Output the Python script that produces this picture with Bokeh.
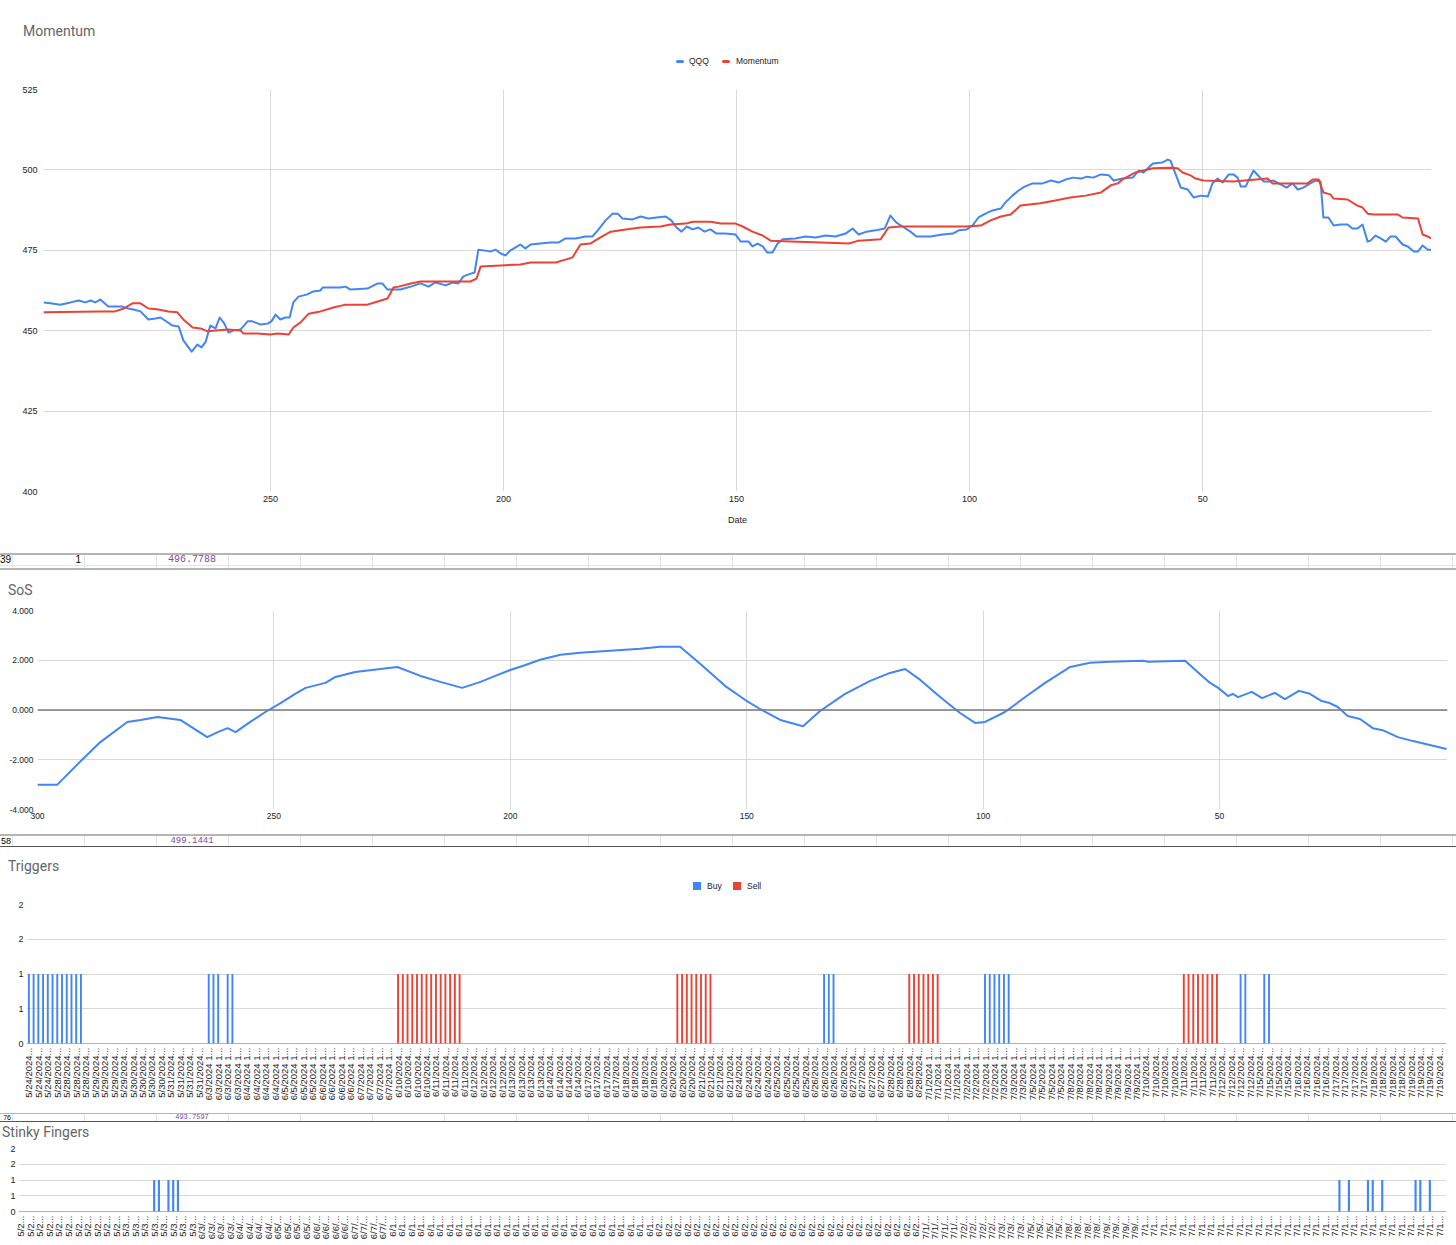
import math
from bokeh.plotting import figure
from bokeh.models import Range1d, FixedTicker, Span, Div, NumeralTickFormatter
from bokeh.layouts import column
from bokeh.embed import file_html
from bokeh.resources import INLINE

# ---------------- data ----------------
QQQ_IDX = [298.7, 297.2, 295.1, 292.9, 291.2, 289.7, 288.6, 287.6, 286.5, 284.8,
           281.8, 280.5, 279.4, 277.9, 276.2, 274.7, 273.6, 271.0, 269.7, 268.7,
           266.9, 265.7, 264.8, 263.9, 262.9, 261.8, 260.9, 259.9, 259.0, 257.9,
           256.4, 254.9, 253.9, 252.1, 250.6, 249.8, 248.9, 247.9, 246.8, 245.9,
           245.1, 244.0, 242.1, 240.8, 239.3, 238.8, 235.0, 233.9, 232.8, 229.2,
           227.0, 226.0, 224.9, 222.1, 219.9, 217.8, 216.1, 214.6, 212.4, 210.9,
           209.7, 208.6, 207.5, 206.2, 205.4, 203.9, 202.8, 201.7, 200.6, 199.6,
           198.5, 197.4, 196.4, 195.3, 194.2, 192.1, 189.9, 188.2, 186.7, 184.5,
           182.4, 180.9, 179.6, 178.1, 176.6, 175.5, 174.5, 172.3, 170.6, 168.9,
           167.2, 165.2, 164.0, 162.9, 161.8, 160.7, 159.4, 158.2, 156.9, 155.6,
           154.3, 152.4, 150.2, 149.1, 147.4, 146.6, 145.5, 144.4, 143.4, 142.3,
           141.2, 140.1, 137.4, 135.2, 133.0, 130.9, 128.8, 126.6, 125.1, 123.8,
           122.1, 120.2, 118.2, 117.0, 115.7, 114.4, 112.7, 111.4, 108.4, 105.8,
           103.6, 102.3, 100.6, 99.4, 98.1, 96.6, 95.1, 93.3, 92.3, 90.8,
           89.5, 88.2, 86.5, 84.3, 82.6, 80.8, 79.4, 77.8, 76.1, 74.8,
           73.5, 71.8, 70.1, 69.1, 67.2, 65.0, 63.7, 62.7, 60.7, 58.6,
           57.5, 56.9, 54.7, 53.2, 51.9, 50.4, 48.9, 47.9, 46.8, 45.7,
           44.4, 43.4, 42.5, 41.8, 40.8, 39.1, 36.9, 35.8, 34.8, 33.7,
           32.0, 30.7, 29.6, 28.4, 26.9, 25.8, 24.7, 24.1, 23.0, 21.9,
           20.4, 18.9, 17.9, 16.8, 15.7, 14.6, 14.0, 12.9, 11.8, 10.7,
           9.7, 8.6, 7.1, 6.0, 4.7, 3.8, 2.8, 1.7, 1.0]
QQQ_VAL = [458.8, 458.5, 458.1, 458.8, 459.4, 458.8, 459.4, 458.8, 459.7, 457.5,
           457.5, 456.9, 456.6, 456.0, 453.5, 453.8, 454.1, 451.6, 451.3, 447.0,
           443.5, 445.7, 444.8, 446.6, 451.6, 450.7, 454.1, 452.2, 449.4, 450.1,
           450.4, 452.9, 452.9, 451.9, 452.2, 452.9, 455.0, 453.5, 454.1, 454.1,
           458.8, 460.6, 461.3, 462.2, 462.5, 463.4, 463.4, 463.7, 462.8, 463.1,
           464.7, 464.7, 462.8, 462.8, 463.7, 464.7, 463.7, 465.0, 464.1, 465.0,
           464.7, 466.9, 467.5, 468.1, 475.2, 474.9, 474.6, 475.2, 474.0, 473.4,
           475.0, 475.9, 476.8, 475.6, 476.8, 477.1, 477.4, 477.4, 478.7, 478.7,
           479.3, 479.3, 481.5, 484.3, 486.4, 486.4, 484.9, 484.6, 485.5, 484.9,
           485.2, 485.5, 484.3, 482.1, 480.8, 482.4, 481.5, 482.1, 480.8, 481.5,
           480.2, 480.2, 479.9, 477.7, 477.7, 476.2, 477.1, 476.2, 474.3, 474.3,
           477.1, 478.4, 478.7, 479.3, 479.0, 479.6, 479.3, 480.2, 481.8, 479.9,
           480.8, 481.2, 481.8, 485.8, 483.6, 482.4, 480.8, 479.3, 479.3, 479.9,
           480.2, 481.2, 481.5, 482.7, 485.2, 486.4, 487.4, 488.0, 489.9, 492.0,
           493.6, 494.8, 495.8, 495.8, 496.7, 496.1, 497.0, 497.6, 497.3, 497.9,
           497.6, 498.6, 498.3, 496.7, 497.3, 497.6, 499.8, 499.2, 502.0, 502.3,
           503.2, 502.9, 494.5, 493.9, 491.4, 492.0, 491.7, 495.8, 497.3, 496.1,
           498.6, 498.6, 497.6, 494.8, 494.8, 499.8, 496.4, 496.4, 496.7, 495.8,
           494.5, 495.8, 493.9, 494.5, 495.8, 496.7, 496.4, 485.2, 485.2, 482.7,
           483.0, 483.0, 481.8, 481.8, 483.0, 477.7, 478.0, 479.6, 478.7, 477.7,
           479.3, 479.3, 476.8, 476.2, 474.6, 474.6, 476.5, 475.2, 475.2]

MOM_IDX = [298.7, 286.5, 283.3, 281.5, 279.6, 277.9, 276.2, 274.0, 271.9, 270.0,
           268.7, 266.7, 265.0, 263.5, 259.2, 256.4, 255.8, 252.8, 250.0, 248.5,
           246.1, 245.1, 243.6, 241.8, 239.3, 236.5, 233.9, 229.2, 227.0, 224.9,
           223.6, 222.5, 219.9, 217.8, 207.1, 205.8, 204.9, 200.6, 196.4, 194.2,
           188.8, 186.7, 185.2, 183.5, 181.4, 179.2, 177.0, 173.8, 170.6, 166.3,
           164.2, 160.9, 159.4, 155.6, 153.4, 150.2, 148.7, 146.6, 144.4, 142.7,
           138.4, 131.9, 125.9, 123.8, 119.1, 117.4, 114.8, 100.8, 97.6, 95.5,
           93.3, 91.2, 89.1, 84.8, 81.6, 78.4, 75.1, 71.8, 69.7, 68.2,
           66.9, 64.4, 60.7, 56.9, 55.4, 54.3, 52.6, 51.5, 49.8, 43.4,
           36.1, 35.0, 27.5, 26.4, 25.1, 24.1, 22.6, 21.9, 18.9, 16.8,
           15.7, 14.6, 13.3, 8.1, 7.1, 3.8, 2.8, 1.7, 1.0]
MOM_VAL = [455.7, 456.0, 456.0, 456.9, 458.5, 458.5, 456.9, 456.6, 456.0, 455.7,
           453.5, 451.0, 450.7, 449.8, 450.4, 450.1, 449.1, 449.1, 448.8, 449.1,
           448.8, 451.0, 452.5, 455.3, 456.0, 457.2, 458.1, 458.1, 459.1, 460.0,
           463.4, 463.7, 464.7, 465.3, 465.3, 466.2, 470.0, 470.3, 470.6, 471.2,
           471.2, 472.1, 472.8, 476.8, 477.1, 479.0, 480.8, 481.5, 482.1, 482.4,
           483.0, 483.3, 483.9, 483.9, 483.3, 483.3, 482.4, 480.8, 479.6, 478.0,
           477.7, 477.4, 477.1, 478.0, 478.4, 482.1, 482.4, 482.4, 482.7, 484.3,
           485.5, 486.1, 488.9, 489.6, 490.5, 491.4, 492.0, 493.0, 495.2, 495.8,
           497.3, 499.2, 500.5, 500.7, 500.5, 499.2, 498.3, 497.3, 496.7, 496.4,
           497.3, 495.8, 495.8, 497.0, 497.0, 493.0, 492.4, 491.1, 490.8, 488.9,
           488.3, 486.4, 486.1, 486.1, 485.2, 484.9, 479.9, 479.3, 478.7]

SOS_IDX = [300.0, 295.8, 290.9, 286.7, 281.0, 278.2, 274.6, 269.8, 264.1, 261.9,
           259.8, 258.1, 255.0, 251.8, 248.6, 245.5, 243.3, 239.1, 237.0, 232.8,
           227.5, 223.9, 219.0, 214.8, 210.2, 206.3, 203.2, 200.0, 196.8, 193.7,
           189.4, 185.2, 178.9, 172.5, 168.3, 164.1, 159.8, 154.6, 150.3, 147.2,
           142.9, 138.1, 134.5, 129.2, 123.9, 119.7, 116.5, 113.3, 109.1, 104.9,
           101.7, 99.6, 95.4, 91.1, 86.9, 81.6, 77.4, 73.2, 66.2, 65.1,
           57.3, 53.7, 52.0, 50.3, 48.2, 47.2, 46.1, 43.2, 41.0, 38.3,
           36.2, 33.2, 30.9, 28.4, 26.7, 25.0, 22.9, 20.3, 17.6, 15.5,
           12.3, 9.1, 2.0]
SOS_VAL = [-3.0, -3.0, -2.06, -1.29, -0.48, -0.40, -0.28, -0.40, -1.09, -0.89,
           -0.73, -0.89, -0.48, -0.08, 0.28, 0.65, 0.89, 1.09, 1.33, 1.53,
           1.65, 1.73, 1.37, 1.13, 0.89, 1.13, 1.37, 1.61, 1.81, 2.02,
           2.22, 2.30, 2.38, 2.46, 2.54, 2.54, 1.85, 0.97, 0.40, 0.04,
           -0.40, -0.65, -0.04, 0.65, 1.17, 1.49, 1.65, 1.21, 0.52, -0.12,
           -0.52, -0.48, -0.08, 0.52, 1.09, 1.73, 1.90, 1.94, 1.98, 1.94,
           1.98, 1.37, 1.09, 0.89, 0.56, 0.65, 0.52, 0.73, 0.48, 0.69,
           0.44, 0.77, 0.65, 0.36, 0.28, 0.12, -0.24, -0.36, -0.73, -0.81,
           -1.09, -1.25, -1.57]

DATES = ["5/24/2024", "5/28/2024", "5/29/2024", "5/30/2024", "5/31/2024",
         "6/3/2024", "6/4/2024", "6/5/2024", "6/6/2024", "6/7/2024",
         "6/10/2024", "6/11/2024", "6/12/2024", "6/13/2024", "6/14/2024",
         "6/17/2024", "6/18/2024", "6/20/2024", "6/21/2024", "6/24/2024",
         "6/25/2024", "6/26/2024", "6/27/2024", "6/28/2024", "7/1/2024",
         "7/2/2024", "7/3/2024", "7/5/2024", "7/8/2024", "7/9/2024",
         "7/10/2024", "7/11/2024", "7/12/2024", "7/15/2024", "7/16/2024",
         "7/17/2024", "7/18/2024", "7/19/2024"]
ROWS_PER_DAY = [6, 8, 8, 8, 8, 8, 8, 8, 8, 8,
                8, 8, 8, 8, 8, 8, 8, 8, 8, 8,
                8, 8, 8, 8, 8, 8, 6, 8, 8, 8,
                8, 8, 8, 8, 8, 8, 8, 8]
TIMES = ["10:00:00", "10:45:00", "11:30:00", "12:15:00",
         "13:00:00", "13:45:00", "14:30:00", "15:15:00"]

BUY_ROWS = [0, 1, 2, 3, 4, 5, 6, 7, 8, 9, 10, 11, 38, 39, 40, 42, 43,
            168, 169, 170, 202, 203, 204, 205, 206, 207, 256, 257, 261, 262]
SELL_ROWS = [78, 79, 80, 81, 82, 83, 84, 85, 86, 87, 88, 89, 90, 91,
             137, 138, 139, 140, 141, 142, 143, 144,
             186, 187, 188, 189, 190, 191, 192,
             244, 245, 246, 247, 248, 249, 250, 251]
STINKY_ROWS = [28, 29, 31, 32, 33, 277, 279, 283, 284, 286, 293, 294, 296]

MOM_XTICKS = [250, 200, 150, 100, 50]
MOM_YTICKS = [400, 425, 450, 475, 500, 525]
SOS_XTICKS = [300, 250, 200, 150, 100, 50]
SOS_YTICKS = [-4, -2, 0, 2, 4]
TRIG_YTICKS = [0, 0.5, 1, 1.5, 2]
TRIG_YLABELS = ["0", "1", "1", "2", "2"]

STRIP_1 = ["39", "1", "496.7788"]
STRIP_2 = ["58", "", "499.1441"]
STRIP_3 = ["76", "", "493.7597"]

# ---------------- derived rows ----------------
ROWS = []
for d, n in zip(DATES, ROWS_PER_DAY):
    for t in TIMES[:n]:
        ROWS.append((d, t))
N = len(ROWS)


def trig_label(d, t):
    return d + "..." if len(d) >= 9 else d + " " + t[0] + "..."


def stinky_label(d, t):
    return d[:4] + "..." if d[3] == "/" else d[:3] + "..."


# ---------------- style ----------------
W = 1456
BLUE = "#4285F4"
RED = "#EA4335"
GRID = "#d9d9d9"
TXT = "#222222"
TITLE_C = "#666666"
AXF = "Liberation Sans"


def base(h, xr, yr, l, r, t, b):
    p = figure(width=W, height=h, x_range=xr, y_range=yr, output_backend="svg",
               toolbar_location=None, tools="", title=None,
               min_border_left=l, min_border_right=r, min_border_top=t, min_border_bottom=b)
    p.frame_align = False
    p.outline_line_color = None
    p.background_fill_color = "white"
    p.border_fill_color = "white"
    for ax in (p.xaxis[0], p.yaxis[0]):
        ax.axis_line_color = None
        ax.major_tick_line_color = None
        ax.minor_tick_line_color = None
        ax.major_tick_out = 0
        ax.major_tick_in = 0
        ax.minor_tick_out = 0
        ax.minor_tick_in = 0
        ax.major_label_text_font = AXF
        ax.major_label_text_font_size = "9px"
        ax.major_label_text_color = TXT
    p.xgrid.grid_line_color = GRID
    p.ygrid.grid_line_color = GRID
    return p


def set_ticks(p, xt=None, yt=None):
    if xt is not None:
        p.xaxis[0].ticker = FixedTicker(ticks=xt)
        p.xgrid[0].ticker = FixedTicker(ticks=xt)
    if yt is not None:
        p.yaxis[0].ticker = FixedTicker(ticks=yt)
        p.ygrid[0].ticker = FixedTicker(ticks=yt)


# ---------------- HTML header / strip helpers ----------------
def abs_text(txt, left, top, size, color, font, lh, width=None, align="left"):
    wcss = "width:%dpx;text-align:%s;" % (width, align) if width else ""
    return ('<div style="position:absolute;left:%dpx;top:%dpx;%sfont-family:%s;font-size:%s;'
            'line-height:%dpx;color:%s;white-space:nowrap;">%s</div>'
            % (left, top, wcss, font, size, lh, color, txt))


def abs_box(left, top, w, h, color, radius=0):
    return ('<div style="position:absolute;left:%dpx;top:%dpx;width:%dpx;height:%dpx;'
            'background:%s;border-radius:%spx;"></div>' % (left, top, w, h, color, radius))


def header(h, title, title_left, title_cy, legend=None):
    parts = ['<div style="position:relative;width:%dpx;height:%dpx;">' % (W, h)]
    parts.append(abs_text(title, title_left, title_cy - 9, "14px", TITLE_C, "Roboto", 18))
    if legend:
        cy, items = legend
        for kind, color, gx, label, tx in items:
            if kind == "line":
                parts.append(abs_box(gx, cy - 1, 8, 3, color, 1.5))
            else:
                parts.append(abs_box(gx, cy - 4, 8, 8, color, 0))
            parts.append(abs_text(label, tx, cy - 5, "8.5px", TXT, "'Liberation Sans'", 10))
    parts.append('</div>')
    return Div(text="".join(parts), width=W, height=h, margin=(0, 0, 0, 0))


def strip_div(h, rules, cell_top, cell_h, vals, text_top, fsize, lh):
    parts = ['<div style="position:relative;width:%dpx;height:%dpx;">' % (W, h)]
    for top, th, col in rules:
        parts.append(abs_box(0, top, W, th, col))
    for x in range(12, W, 72):
        parts.append(abs_box(x, cell_top, 1, cell_h, "#e2e2e2"))
    parts.append(abs_text(vals[0], 0, text_top, fsize, "#000000", "'Liberation Sans'", lh, 11, "right"))
    parts.append(abs_text(vals[1], 41, text_top, fsize, "#000000", "'Liberation Sans'", lh, 40, "right"))
    parts.append(abs_text(vals[2], 156, text_top, fsize, "#7d4b9e", "'Liberation Mono'", lh, 72, "center"))
    parts.append('</div>')
    return Div(text="".join(parts), width=W, height=h, margin=(0, 0, 0, 0))


# ---------------- Momentum ----------------
hA = header(80, "Momentum", 23, 31,
            (61, [("line", BLUE, 676, "QQQ", 689), ("line", RED, 722, "Momentum", 736)]))
pA = base(470, Range1d(298.7, 0.9), Range1d(400, 525), 43, 25, 9, 59)
set_ticks(pA, MOM_XTICKS, MOM_YTICKS)
pA.yaxis.major_label_standoff = 6
pA.xaxis.major_label_standoff = 4
pA.xaxis.axis_label = "Date"
pA.xaxis.axis_label_text_font = AXF
pA.xaxis.axis_label_text_font_size = "9px"
pA.xaxis.axis_label_text_font_style = "normal"
pA.xaxis.axis_label_text_color = TXT
pA.xaxis.axis_label_standoff = 10
pA.line(QQQ_IDX, QQQ_VAL, line_color=BLUE, line_width=2, line_join="round")
pA.line(MOM_IDX, MOM_VAL, line_color=RED, line_width=2, line_join="round")

s1 = strip_div(20, [(3, 2, "#b5b5b5"), (15, 1, "#e6e6e6"), (18, 2, "#b5b5b5")],
               5, 13, STRIP_1, 4, "10px", 12)

# ---------------- SoS ----------------
hB = header(30, "SoS", 8, 20)
pB = base(233, Range1d(300, 1.8), Range1d(-4, 4), 37, 9, 10, 24)
set_ticks(pB, SOS_XTICKS, SOS_YTICKS)
pB.yaxis.formatter = NumeralTickFormatter(format="0.000")
pB.yaxis.major_label_standoff = 4
pB.xaxis.major_label_standoff = 3
pB.xaxis.major_label_text_font_size = "8.5px"
pB.yaxis.major_label_text_font_size = "8.5px"
pB.add_layout(Span(location=0, dimension="width", line_color="#7a7a7a", line_width=1.3))
pB.line(SOS_IDX, SOS_VAL, line_color=BLUE, line_width=2, line_join="round")

s2 = strip_div(14, [(1, 2, "#b5b5b5"), (13, 1, "#555555")], 3, 10, STRIP_2, 3, "9px", 10)


# ---------------- Triggers / Stinky Fingers ----------------
def bar_chart(h, l, t, b, label_fn, font_size):
    p = base(h, Range1d(-0.5, N - 0.5), Range1d(0, 2), l, 10, t, b)
    ticks = list(range(0, N, 2))
    set_ticks(p, ticks, TRIG_YTICKS)
    p.xgrid.visible = False
    p.xaxis.major_label_overrides = {i: label_fn(*ROWS[i]) for i in ticks}
    p.xaxis.major_label_orientation = math.pi / 2
    p.xaxis.major_label_text_font_size = font_size
    p.xaxis.major_label_standoff = 4
    p.yaxis.major_label_overrides = dict(zip(TRIG_YTICKS, TRIG_YLABELS))
    p.yaxis.major_label_standoff = 3
    p.add_layout(Span(location=0, dimension="width", line_color="#666666", line_width=1.2))
    return p


hC = header(50, "Triggers", 8, 19,
            (39, [("sq", BLUE, 693, "Buy", 707), ("sq", RED, 733, "Sell", 747)]))
pC = bar_chart(213, 26, 7, 67, trig_label, "9.5px")
pC.vbar(x=BUY_ROWS, top=1, bottom=0, width=0.4, fill_color=BLUE, line_color=None)
pC.vbar(x=SELL_ROWS, top=1, bottom=0, width=0.4, fill_color=RED, line_color=None)

s3 = strip_div(9, [(0, 1, "#b5b5b5"), (8, 1, "#555555")], 1, 7, STRIP_3, 1, "7px", 7)

hD = header(23, "Stinky Fingers", 2, 13)
pD = bar_chart(102, 18, 6, 33, stinky_label, "9.5px")
pD.vbar(x=STINKY_ROWS, top=1, bottom=0, width=0.45, fill_color=BLUE, line_color=None)

layout = column(hA, pA, s1, hB, pB, s2, hC, pC, s3, hD, pD, spacing=0)
open("out.html", "w").write(file_html(layout, INLINE))
